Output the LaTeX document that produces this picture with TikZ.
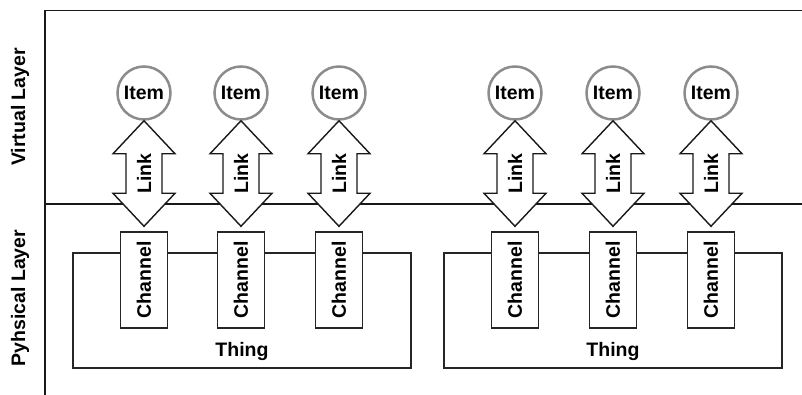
\documentclass[tikz,border=0pt]{standalone}
\usepackage{fontspec}
\usepackage{graphicx}
\setmainfont{Liberation Sans}
\usetikzlibrary{calc}

\tikzset{
  lbl/.style={font=\fontsize{19.5}{22}\selectfont\bfseries, inner sep=0pt},
  itemnode/.style={circle, draw=black!45, line width=2.5pt, fill=white,
    minimum size=53pt, inner sep=0pt, lbl},
  channode/.style={rectangle, draw=black!85, line width=1.4pt, fill=white,
    minimum width=47pt, minimum height=96pt, inner sep=0pt, lbl},
  thingbox/.style={draw=black!85, line width=1.4pt},
  layerline/.style={draw=black!90, line width=1.4pt},
  linkarrow/.style={draw=black!90, line width=1.4pt, fill=white, line join=miter},
}

% double-headed Link arrow between an item and its channel
\newcommand\linkarrow[2]{%
  \draw[linkarrow] let \p1=(#1.south), \p2=($(#2.north)+(0,5pt)$) in
    (\x1,\y1) -- (\x1+31pt,\y1-33pt) -- (\x1+18pt,\y1-33pt)
    -- (\x1+18pt,\y2+33pt) -- (\x1+31pt,\y2+33pt) -- (\x1,\y2)
    -- (\x1-31pt,\y2+33pt) -- (\x1-18pt,\y2+33pt)
    -- (\x1-18pt,\y1-33pt) -- (\x1-31pt,\y1-33pt) -- cycle;
  \node[lbl, rotate=90] at ($(#1.south)!0.5!($(#2.north)+(0,5pt)$)$) {Link};
}

\begin{document}
\begin{tikzpicture}[x=1pt, y=1pt]
  \useasboundingbox[fill=white] (0,0) rectangle (802,395);

  % layer frame
  \coordinate (ftl) at (45,384.5);
  \coordinate (ftr) at (802,384.5);
  \coordinate (fbl) at (45,0);
  \coordinate (fml) at (45,191);
  \coordinate (fmr) at (802,191);
  \draw[layerline] (ftr) -- (ftl) -- (fbl);
  \draw[layerline] (fml) -- (fmr);

  \node[lbl, rotate=90] (virt) at (20,288) {Virtual Layer};
  \node[lbl, rotate=90] (phys) at (20,97) {Pyhsical Layer};

  % things
  \draw[thingbox] (73,142) rectangle (411,27);
  \draw[thingbox] (444,142) rectangle (782,27);
  \node[lbl] (t1) at (242,43) {Thing};
  \node[lbl] (t2) at (613,43) {Thing};

  % items, channels and links
  \foreach \i/\x in {1/144, 2/241, 3/339, 4/515, 5/613, 6/711} {
    \node[itemnode] (i\i) at (\x,302) {Item};
    \node[channode] (c\i) at (\x,115) {\rotatebox{90}{Channel}};
    \linkarrow{i\i}{c\i}
  }
\end{tikzpicture}
\end{document}
